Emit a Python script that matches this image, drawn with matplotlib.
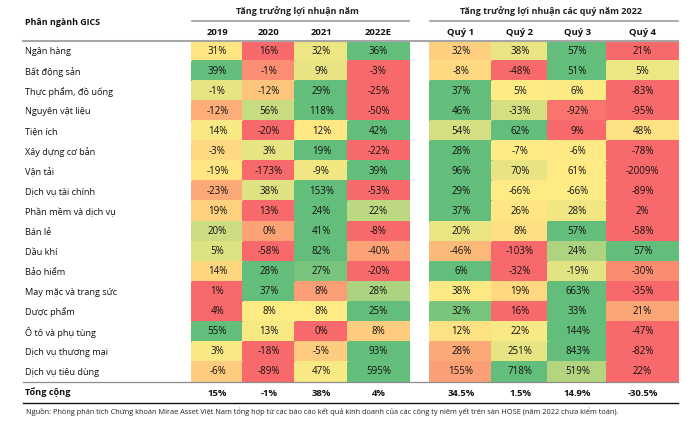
import numpy as np
import matplotlib.pyplot as plt
from matplotlib.colors import LinearSegmentedColormap

plt.rcParams['font.family'] = ['Open Sans', 'DejaVu Sans']

sectors = ['Ngân hàng', 'Bất động sản', 'Thực phẩm, đồ uống', 'Nguyên vật liệu',
           'Tiện ích', 'Xây dựng cơ bản', 'Vận tải', 'Dịch vụ tài chính',
           'Phần mềm và dịch vụ', 'Bán lẻ', 'Dầu khí', 'Bảo hiểm',
           'May mặc và trang sức', 'Dược phẩm', 'Ô tô và phụ tùng',
           'Dịch vụ thương mại', 'Dịch vụ tiêu dùng']

year_cols = ['2019', '2020', '2021', '2022E']
quarter_cols = ['Quý 1', 'Quý 2', 'Quý 3', 'Quý 4']

annual = [
    [31, 16, 32, 36],
    [39, -1, 9, -3],
    [-1, -12, 29, -25],
    [-12, 56, 118, -50],
    [14, -20, 12, 42],
    [-3, 3, 19, -22],
    [-19, -173, -9, 39],
    [-23, 38, 153, -53],
    [19, 13, 24, 22],
    [20, 0, 41, -8],
    [5, -58, 82, -40],
    [14, 28, 27, -20],
    [1, 37, 8, 28],
    [4, 8, 8, 25],
    [55, 13, 0, 8],
    [3, -18, -5, 93],
    [-6, -89, 47, 595],
]

quarterly = [
    [32, 38, 57, 21],
    [-8, -48, 51, 5],
    [37, 5, 6, -83],
    [46, -33, -92, -95],
    [54, 62, 9, 48],
    [28, -7, -6, -78],
    [96, 70, 61, -2009],
    [29, -66, -66, -89],
    [37, 26, 28, 2],
    [20, 8, 57, -58],
    [-46, -103, 24, 57],
    [6, -32, -19, -30],
    [38, 19, 663, -35],
    [32, 16, 33, 21],
    [12, 22, 144, -47],
    [28, 251, 843, -82],
    [155, 718, 519, 22],
]

total_annual = ['15%', '-1%', '38%', '4%']
total_quarter = ['34.5%', '1.5%', '14.9%', '-30.5%']

source = ('Nguồn: Phòng phân tích Chứng khoán Mirae Asset Việt Nam tổng hợp từ các báo cáo '
          'kết quả kinh doanh của các công ty niêm yết trên sàn HOSE (năm 2022 chưa kiểm toán).')

# red - yellow - green scale, applied per row (min / median / max)
cmap = LinearSegmentedColormap.from_list('ryg', ['#F8696B', '#FFEB84', '#63BE7B'])


def row_scale(data):
    data = np.array(data, dtype=float)
    out = np.zeros_like(data)
    for i, row in enumerate(data):
        out[i] = np.interp(row, [row.min(), np.median(row), row.max()], [0, 0.5, 1])
    return out


# layout in pixels
row_edges = np.linspace(41, 382, len(sectors) + 1)
year_edges = np.array([192, 243, 295, 348, 409])
quarter_edges = np.array([430, 492, 548, 607, 678])

fig = plt.figure(figsize=(7, 4.25), dpi=100)
ax = fig.add_axes([0, 0, 1, 1])
ax.set_xlim(0, 700)
ax.set_ylim(425, 0)
ax.axis('off')

for edges, data, cols, title, tot in [
        (year_edges, annual, year_cols, 'Tăng trưởng lợi nhuận năm', total_annual),
        (quarter_edges, quarterly, quarter_cols, 'Tăng trưởng lợi nhuận các quý năm 2022', total_quarter)]:
    ax.pcolormesh(edges, row_edges, row_scale(data), cmap=cmap, vmin=0, vmax=1,
                  edgecolors='face', linewidth=0.3)
    centers = (edges[:-1] + edges[1:]) / 2
    row_centers = (row_edges[:-1] + row_edges[1:]) / 2
    for i, row in enumerate(data):
        for j, v in enumerate(row):
            ax.text(centers[j], row_centers[i], f'{v}%', ha='center', va='center',
                    fontsize=7, color='#111111')
    for j, c in enumerate(cols):
        ax.text(centers[j], 32, c, ha='center', va='center', fontsize=6.8,
                fontweight='bold', color='#111111')
        ax.text(centers[j], 393, tot[j], ha='center', va='center', fontsize=6.8,
                fontweight='bold', color='#111111')
    ax.text(edges.mean(), 12, title, ha='center', va='center', fontsize=6.5,
            fontweight='bold', color='#222222')
    ax.plot([edges[0], edges[-1]], [21, 21], color='#a6a6a6', lw=1.3)

row_centers = (row_edges[:-1] + row_edges[1:]) / 2
for i, s in enumerate(sectors):
    ax.text(25, row_centers[i] + 0.5, s, ha='left', va='center', fontsize=6.6, color='#111111')

ax.text(25, 22, 'Phân ngành GICS', ha='left', va='center', fontsize=6.4,
        fontweight='bold', color='#111111')
ax.text(25, 393, 'Tổng cộng', ha='left', va='center', fontsize=6.6,
        fontweight='bold', color='#111111')
ax.text(26, 412, source, ha='left', va='center', fontsize=5.35, color='#222222')

ax.plot([23, 678], [41, 41], color='#a6a6a6', lw=1.5)
ax.plot([23, 678], [382, 382], color='#8c8c8c', lw=0.9)
ax.plot([23, 678], [403, 403], color='#111111', lw=1.0)

fig.savefig('out.png', dpi=100)
